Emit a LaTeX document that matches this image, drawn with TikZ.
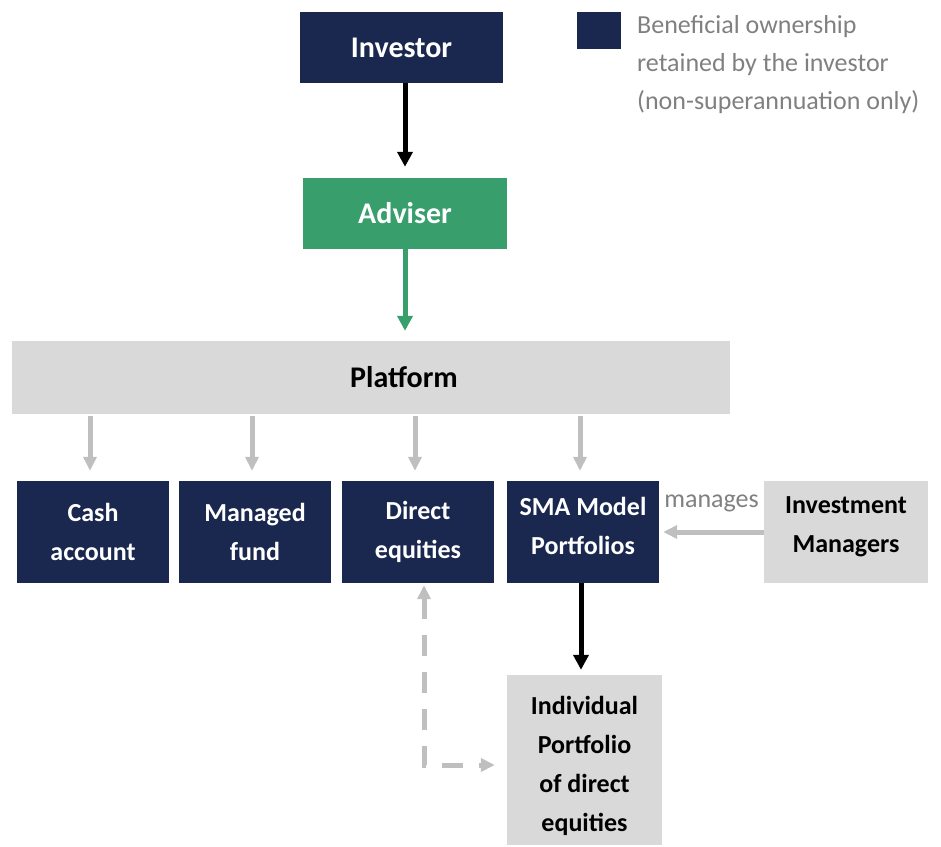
\documentclass[tikz,border=0pt]{standalone}
\usepackage{fontspec}
\setmainfont{Carlito}
\usetikzlibrary{arrows.meta}

\definecolor{navy}{HTML}{1A2850}
\definecolor{advgreen}{HTML}{379E6C}
\definecolor{boxgray}{HTML}{D9D9D9}
\definecolor{arrowgray}{HTML}{BFBFBF}
\definecolor{textgray}{HTML}{808080}

\tikzset{
    bigbox/.style={inner sep=0pt, font=\bfseries\fontsize{30}{36}\selectfont},
    smallbox/.style={inner sep=0pt, align=center, font=\bfseries\fontsize{26}{39}\selectfont},
    navyfill/.style={fill=navy, text=white},
    grayfill/.style={fill=boxgray, text=black},
    darrow/.style={line width=5pt, -{Triangle[width=15pt,length=15pt]}},
    garrow/.style={arrowgray, line width=5pt, -{Triangle[width=13pt,length=14pt]}}
}

\begin{document}
\begin{tikzpicture}[x=1pt, y=-1pt]
    \useasboundingbox (0,0) rectangle (941,846);

    % Top boxes
    \node[bigbox, navyfill, minimum width=203pt, minimum height=71pt] (investor) at (401.5,47.5) {Investor};
    \node[bigbox, fill=advgreen, text=white, minimum width=204pt, minimum height=71pt] (adviser) at (405,213.5) {Adviser};
    \node[bigbox, grayfill, minimum width=718pt, minimum height=73pt,
          label={[bigbox, xshift=33pt]center:Platform}] (platform) at (371,377.5) {};

    % Holdings
    \node[smallbox, navyfill, minimum width=152pt, minimum height=102pt] (cash) at (93,532) {Cash\\account};
    \node[smallbox, navyfill, minimum width=152pt, minimum height=102pt] (fund) at (255,532) {Managed\\fund};
    \node[smallbox, navyfill, minimum width=152pt, minimum height=102pt] (direct) at (418,532) {Direct\\equities};
    \node[smallbox, navyfill, minimum width=152pt, minimum height=102pt,
          label={[smallbox, text=white, yshift=6pt]center:SMA Model\\Portfolios}] (sma) at (583,532) {};
    \node[smallbox, grayfill, minimum width=164pt, minimum height=102pt,
          label={[smallbox, yshift=5pt]center:Investment\\Managers}] (managers) at (846,532) {};
    \node[smallbox, grayfill, minimum width=155pt, minimum height=170pt,
          label={[smallbox, yshift=-6pt]center:Individual\\Portfolio\\of direct\\equities}] (individual) at (584.5,760) {};

    % Legend
    \node[fill=navy, minimum width=44pt, minimum height=37pt, inner sep=0pt] (key) at (599,30.5) {};
    \node[anchor=west, align=left, text=textgray, inner sep=0pt, font=\fontsize{26}{38}\selectfont] (keytext) at (637,65)
        {Beneficial ownership\\retained by the investor\\(non-superannuation only)};

    % Arrows
    \draw[darrow, shorten >=11pt] (investor.south -| adviser.north) -- (adviser.north);
    \draw[darrow, advgreen, shorten >=10pt] (adviser.south) -- (platform.north -| adviser.south);
    \foreach \h in {cash, fund, direct, sma}
        \draw[garrow, shorten <=2pt, shorten >=10pt] ([xshift=-3pt]platform.south -| \h.north) -- ([xshift=-3pt]\h.north);
    \draw[garrow, shorten >=4pt] (managers.west |- sma.east) -- (sma.east)
        node[midway, above=14pt, text=textgray, font=\fontsize{26}{32}\selectfont] {manages};
    \draw[darrow, shorten >=5pt] ([xshift=-2pt]sma.south) -- ([xshift=-2pt]individual.north -| sma.south);
    \draw[arrowgray, line width=5pt, dash pattern=on 21pt off 16pt,
          {Triangle[width=13pt,length=14pt]}-{Triangle[width=13pt,length=14pt]}, shorten >=12pt]
        ([xshift=6pt, yshift=-2pt]direct.south) |- ([yshift=-5pt]individual.west);
\end{tikzpicture}
\end{document}
